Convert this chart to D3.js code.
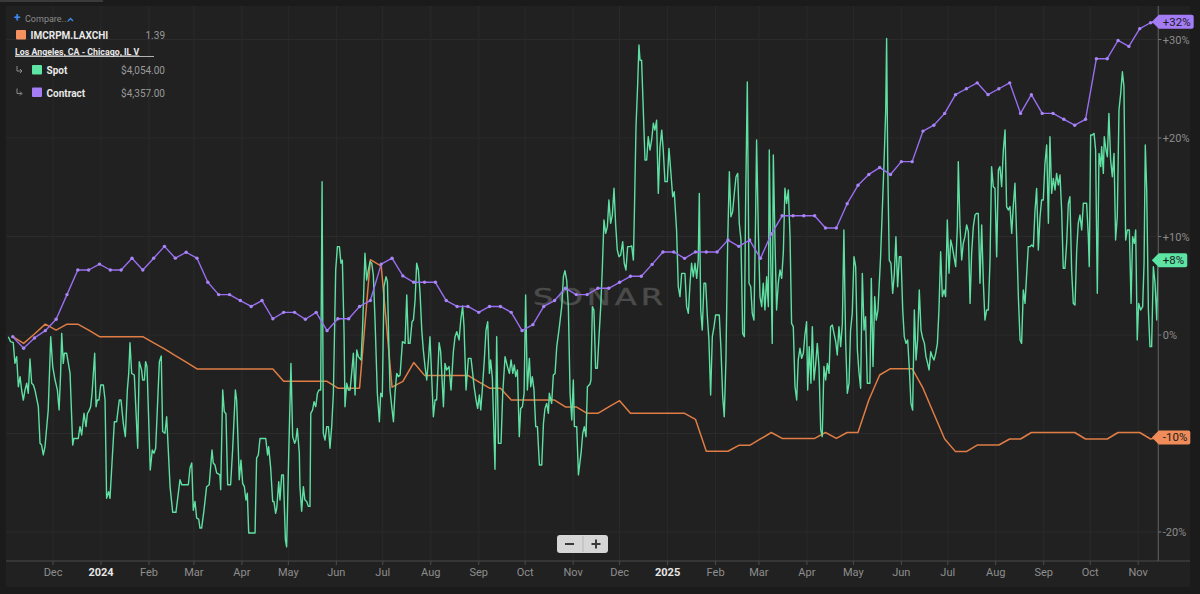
<!DOCTYPE html>
<html><head><meta charset="utf-8">
<script src="https://cdn.jsdelivr.net/npm/d3@7"></script>
<style>
html,body{margin:0;padding:0;background:#1b1b1b;}
svg{display:block;font-family:Roboto,"Noto Sans",sans-serif;}
</style></head><body>
<svg id="chart" width="1200" height="594"></svg>
<script>
// Day offsets are days since 2023-11-01; values are % change from the start.
const BASE_DATE = "2023-11-01";
const END_DAY = 744;

// Weekly contract rate (% change), first week at day 4
const contractStartDay = 4;
const contractWeekly = [-0.17,-1.35,-0.3,0.44,1.6,4.1,6.6,6.6,7.2,6.6,6.6,7.8,6.6,7.8,9.0,7.8,8.4,7.8,5.35,4.1,4.1,3.5,2.9,3.5,1.65,2.3,2.3,
1.6,2.3,0.44,1.65,1.65,2.9,3.5,7.2,7.8,6.0,5.35,5.35,5.35,3.5,2.9,2.9,2.3,2.9,2.9,2.3,0.44,1.05,2.9,3.5,4.75,4.1,4.1,
4.74,4.74,5.35,5.96,5.96,7.17,8.43,8.43,7.78,8.43,8.43,8.43,9.64,9.0,9.64,7.78,10.25,12.1,12.1,12.1,12.1,10.86,10.86,13.33,15.2,16.3,
17.0,16.3,17.6,17.6,20.7,21.3,22.5,24.4,25.0,25.6,24.4,25.0,25.6,22.5,24.4,22.5,22.5,21.9,21.3,21.9,28.05,28.05,29.9,29.3,31.1,31.7];
const contractLatest = 31.8;

// Weekly IMCRPM.LAXCHI (% change)
const imcrpmWeekly = [-0.17,-0.85,0.1,1.1,0.5,1.1,1.1,0.5,-0.17,-0.17,
-0.17,-0.17,-0.17,-0.8,-1.4,-2.1,-2.75,-3.45,-3.45,-3.45,
-3.45,-3.45,-3.45,-3.45,-3.45,-4.7,-4.7,-4.7,-4.7,-4.7,
-5.4,-5.4,-5.4,7.65,7.0,-5.3,-4.7,-2.8,-4.1,-4.1,
-4.1,-4.1,-4.1,-4.75,-5.4,-5.4,-6.6,-6.6,-6.6,-6.6,
-6.6,-7.3,-7.3,-7.95,-7.95,-7.3,-6.67,-7.95,-7.95,-7.95,
-7.95,-7.95,-7.95,-8.56,-11.8,-11.8,-11.8,-11.2,-11.2,-10.55,
-9.9,-10.5,-10.5,-10.5,-10.5,-9.9,-10.5,-9.9,-9.9,-6.6,
-4.06,-3.42,-3.42,-3.42,-5.4,-8.0,-10.56,-11.84,-11.84,-11.17,
-11.17,-11.17,-10.56,-10.56,-9.9,-9.9,-9.9,-9.9,-9.9,-10.56,
-10.56,-10.56,-9.9,-9.9,-9.9,-10.56];
const imcrpmLatest = -10.4;

// Spot rate (% change): [day, value]
const spot = [
[1.1,-0.17],[2.6,-0.68],[4.3,-0.78],[5.4,-2.88],[6.5,-2.2],[7.6,-5.25],[8.7,-4.23],[9.7,-5.58],[10.8,-6.6],[11.9,-5.58],[13.0,-4.9],[14.0,-5.92],[15.1,-2.44],[16.2,-4.9],[17.3,-5.08],[18.3,-5.58],[20.5,-7.28],[21.6,-11.0],[22.6,-11.17],[23.7,-12.18],[24.8,-11.34],[26.9,-7.6],[28.5,-0.17],[29.8,-3.2],[31.3,-4.57],[32.8,-5.58],[33.9,-7.6],[34.9,-3.9],[35.6,0.17],[36.6,-2.88],[37.3,-1.86],[38.8,-1.86],[41.0,-3.9],[42.7,-11.17],[43.5,-10.5],[46.3,-10.5],[47.4,-9.3],[48.5,-10.15],[50.0,-7.95],[51.3,-9.3],[52.2,-7.95],[53.0,-7.78],[54.3,-7.28],[55.2,-5.92],[56.9,-1.86],[57.8,-7.28],[58.6,-6.6],[59.7,-6.6],[60.8,-5.08],[62.5,-5.08],[63.6,-6.6],[64.6,-16.58],[65.9,-15.9],[66.8,-16.58],[69.6,-8.8],[71.1,-8.8],[72.8,-6.6],[73.9,-6.6],[75.4,-8.97],[76.7,-10.32],[78.0,-5.58],[78.9,-3.9],[79.7,-0.78],[80.8,-3.9],[82.5,-4.06],[84.7,-11.5],[85.7,-2.7],[87.2,-3.55],[87.9,-4.57],[89.0,-4.57],[89.8,-2.7],[90.7,-3.2],[92.8,-13.7],[94.1,-11.67],[95.2,-12.0],[96.3,-11.5],[98.7,-2.7],[99.9,-2.13],[100.8,-9.8],[102.3,-9.98],[103.4,-8.3],[105.6,-15.4],[107.3,-18.0],[109.4,-18.0],[112.0,-14.7],[113.1,-15.2],[117.4,-15.2],[118.5,-13.5],[119.6,-13.0],[120.6,-17.8],[121.7,-16.9],[122.8,-18.6],[124.1,-18.7],[124.9,-19.6],[126.0,-19.6],[127.5,-17.8],[129.2,-15.4],[130.9,-15.2],[132.7,-11.67],[133.5,-13.0],[134.6,-13.2],[135.7,-14.0],[137.8,-14.2],[138.3,-15.7],[139.6,-5.58],[140.6,-7.78],[141.7,-8.0],[142.8,-15.2],[144.7,-15.2],[146.0,-11.67],[147.8,-5.58],[148.6,-6.6],[149.7,-11.67],[150.3,-14.7],[151.4,-12.7],[152.5,-15.06],[153.6,-15.4],[154.6,-16.75],[155.5,-16.07],[156.4,-20.1],[160.5,-20.1],[161.5,-12.5],[162.6,-12.18],[163.7,-10.5],[167.4,-10.5],[168.6,-12.18],[169.3,-11.34],[170.6,-13.5],[171.9,-16.9],[172.7,-16.9],[173.8,-18.1],[174.5,-17.6],[175.8,-14.9],[176.6,-16.75],[177.7,-14.2],[178.8,-14.2],[180.1,-20.8],[180.9,-21.5],[182.2,-12.5],[183.7,-2.88],[184.8,-10.32],[186.1,-11.0],[186.9,-10.66],[187.8,-9.48],[189.1,-12.0],
[189.5,-15.4],[190.6,-17.9],[191.7,-15.4],[192.7,-16.75],[193.9,-16.9],[194.9,-17.4],[196.0,-17.4],
[196.5,-7.95],[197.7,-7.6],[198.6,-6.77],[199.7,-7.28],[200.8,-5.92],[201.8,-5.58],[202.9,-5.58],[203.8,15.57],[204.6,-9.98],[205.7,-10.66],[206.8,-9.3],[207.9,-9.3],[208.9,-11.5],[210.0,-9.3],[211.1,-5.92],[212.6,6.6],[213.7,8.97],[215.0,8.97],[216.0,7.28],[216.9,7.6],[218.0,0.17],[218.6,-7.28],[219.7,-4.9],[220.8,-5.58],[221.9,-5.58],[222.9,-3.9],[224.0,-1.86],[225.1,-6.09],[226.2,-1.52],[227.2,-2.2],[229.0,-2.54],[230.0,0.85],[231.5,8.3],[232.6,5.58],[233.7,6.6],[234.8,7.45],[235.9,7.28],[236.9,6.09],[238.0,1.52],[239.5,-5.92],[240.8,-8.8],[241.7,-5.92],[242.7,-6.26],[243.8,4.9],[245.1,5.92],[246.0,5.41],[247.1,-2.2],[247.7,-5.58],[248.8,-7.28],[249.9,-8.8],[250.9,-5.92],[252.0,-3.9],[253.1,-4.23],[254.2,-4.06],[255.7,-0.68],[257.4,-0.85],[258.5,4.06],[259.5,-0.85],[260.6,-0.85],[261.9,1.35],[262.8,1.52],[263.9,3.55],[264.9,7.28],[266.0,6.6],[267.1,4.23],[268.2,0.5],[269.2,-1.52],[270.3,-3.2],[271.4,-4.57],[272.5,-2.54],[273.5,-0.17],[274.6,-4.23],[275.7,-8.3],[276.8,-6.6],[277.8,-6.6],[279.4,-0.78],[280.4,-1.69],[282.2,-7.28],[283.2,-2.88],[284.3,-3.55],[285.8,-3.2],[287.1,-5.58],[288.6,-1.69],[289.7,-0.17],[290.8,0.34],[292.3,-0.5],[293.4,1.52],[294.6,2.94],[295.5,0.85],[296.8,-5.58],[298.3,-2.37],[300.0,-2.37],[301.1,-3.9],[302.0,-5.25],[303.3,-6.6],[304.3,-7.45],[305.4,-6.09],[306.3,-7.6],[307.3,-5.58],[308.6,-2.54],[309.7,0.5],[310.8,1.35],[311.9,-3.9],[312.7,-2.54],[313.8,-4.4],[315.5,-13.64],[316.6,-0.17],[317.7,-11.0],[319.4,-11.0],[320.5,-5.92],[322.0,-2.2],[323.5,-3.2],[324.8,-3.9],[325.9,-2.54],[327.0,-3.9],[328.0,-3.05],[328.9,-4.23],[330.0,-3.55],[331.2,-10.32],[332.1,-7.45],[333.2,-7.28],[334.3,-5.92],[335.3,4.06],[336.4,-5.58],[337.7,-2.37],[338.6,-5.25],[339.6,-4.23],[340.7,-5.58],[341.8,-9.3],[342.9,-9.3],[344.2,-13.2],[345.7,-13.2],[346.8,-8.97],[347.8,-7.45],[348.9,-6.94],[350.0,-7.95],[350.6,-5.92],[352.1,-6.94],[353.2,-4.06],[354.3,-3.9],[355.4,-1.18],[357.1,0.85],[358.6,2.88],[359.7,5.92],[360.7,6.53],[361.8,5.58],[362.9,2.88],[364.0,-5.92],[365.1,-8.63],[366.1,-4.57],[366.8,-9.3],[368.3,-9.3],[369.4,-14.2],[371.1,-12.0],[372.2,-9.98],[373.2,-9.3],[374.3,-10.32],[375.2,-5.25],[376.9,-4.97],
[377.5,-4.57],[378.4,2.88],[379.4,2.54],[380.5,-3.38],[381.6,-3.38],[382.7,-0.17],[383.8,2.88],[384.8,6.6],[385.9,11.67],[387.0,10.32],[388.1,11.0],[389.1,13.7],[390.2,11.34],[391.3,12.18],[392.4,14.9],[393.4,11.34],[394.5,8.63],[395.6,7.95],[396.7,8.12],[398.0,9.48],[399.0,7.28],[400.1,6.6],[401.2,8.97],[402.7,8.97],[403.8,9.04],[404.9,7.61],[405.5,12.0],[406.6,21.15],[407.7,25.55],[408.5,29.44],[409.2,27.9],[410.2,27.9],[411.3,22.84],[412.4,17.77],[413.5,17.77],[414.5,20.14],[415.6,18.78],[416.7,19.8],[417.8,21.5],[418.8,20.8],[419.9,21.8],[421.0,14.38],[422.1,19.1],[423.2,20.8],[424.2,18.78],[425.3,15.57],[426.8,15.57],[427.9,18.95],[429.0,16.75],[430.3,14.04],[431.3,14.55],[432.8,10.66],[433.9,4.9],[435.0,3.9],[436.1,6.26],[438.2,6.26],[439.3,2.88],[440.4,2.2],[441.5,5.25],[442.5,7.28],[443.6,5.92],[444.7,7.28],[445.8,5.75],[446.8,7.61],[447.5,14.38],[448.4,2.54],[449.4,0.5],[450.5,5.25],[451.6,5.25],[452.7,1.86],[453.7,-0.5],[454.8,-6.1],[455.9,-0.17],[457.0,0.85],[458.0,2.03],[460.4,2.03],[461.5,-1.52],[462.6,-6.26],[463.6,-8.3],[464.7,-2.54],[465.8,9.3],[466.9,16.58],[467.9,12.0],[469.0,12.5],[470.1,14.38],[471.2,16.07],[472.3,16.41],[473.3,11.34],[474.4,9.64],[475.5,0.17],[476.6,-0.17],[477.4,13.37],[478.5,25.7],[479.6,5.25],[480.7,4.9],[481.7,2.2],[482.8,1.52],[483.9,12.35],[484.5,19.8],[485.6,10.66],[486.7,3.9],[487.8,2.88],[488.8,5.25],[489.9,2.54],[491.0,5.92],[492.1,2.88],[492.7,18.78],[493.6,7.95],[494.6,-0.85],[495.3,18.27],[496.4,9.3],[497.4,2.54],[498.5,5.25],[499.6,6.6],[500.7,5.75],[501.8,8.46],[502.8,14.9],[503.9,13.37],[505.0,14.72],[506.1,9.98],[507.1,1.18],[508.2,0.85],[509.3,-5.25],[510.4,-6.6],[511.4,-2.54],[512.5,-1.35],[513.6,-2.37],[514.7,-1.86],[515.7,0],[516.8,1.35],[517.5,-5.58],[518.5,-1.18],[519.6,-4.9],[520.5,0.85],[521.6,-4.57],[522.6,-3.05],[523.7,-0.85],[524.8,-3.2],[525.9,-9.64],[526.9,-10.32],[528.0,-3.2],[529.1,-4.57],[530.2,-2.88],[531.3,-3.9],[532.3,0.85],[533.4,1.02],[534.5,0.17],[535.6,-0.68],[536.6,-2.03],[537.7,0.85],[538.8,-1.18],[539.9,1.18],[540.9,10.66],[542.0,-0.5],[543.1,-5.92],[544.2,-4.9],[545.2,0.5],[546.3,2.2],[547.4,7.95],[548.5,6.94],[549.6,-1.52],[550.6,-3.72],[551.7,-5.41],[552.8,6.26],[553.9,0.5],[554.9,1.86],[556.0,-4.9],[557.7,-4.9],[558.6,5.75],[559.7,-3.2],[560.8,3.9],[561.8,1.52],[562.9,2.54],
[564.6,7.95],[565.7,12.7],[566.8,17.4],[567.9,22.8],[568.5,30.1],[569.2,17.4],[570.2,7.6],[571.3,7.28],[572.4,4.23],[573.5,6.26],[574.5,9.98],[575.6,4.9],[576.7,7.95],[577.8,7.95],[578.9,2.54],[579.9,-0.17],[581.0,-0.85],[582.1,-0.5],[583.2,-3.55],[584.2,-6.94],[585.3,-7.61],[586.4,2.54],[587.5,-2.54],[588.5,-0.5],[589.6,4.57],[590.7,0.5],[591.8,-0.34],[592.9,-0.85],[593.9,-2.2],[595.0,-2.88],[595.9,-3.55],[597.0,-1.69],[598.0,-2.2],[599.1,-2.54],[600.2,-1.86],[601.3,-0.85],[602.3,2.54],[603.4,8.46],[604.5,3.9],[605.6,4.57],[606.6,3.9],[607.7,11.67],[608.8,6.26],[609.9,9.64],[610.9,8.97],[612.0,7.95],[613.1,6.94],[614.2,11.0],[614.8,17.6],[615.9,11.0],[617.0,7.61],[618.0,9.3],[619.1,9.98],[620.2,11.17],[621.3,10.49],[622.4,3.21],[623.4,8.29],[624.5,11.0],[625.6,12.18],[626.7,12.35],[627.7,12.35],[628.8,5.25],[629.9,11.17],[631.0,5.25],[632.0,1.52],[633.1,2.54],[634.2,2.54],[635.3,7.61],[636.3,17.09],[637.4,15.06],[638.5,14.89],[639.6,7.95],[640.7,16.75],[641.7,17.09],[642.8,15.06],[643.9,18.78],[645.0,20.81],[646.0,13.03],[647.1,12.69],[648.2,13.03],[649.3,10.32],[650.3,13.03],[651.4,15.4],[652.5,9.98],[653.6,3.89],[654.7,-0.5],[655.7,-0.85],[656.8,4.57],[657.9,3.21],[659.0,6.26],[660.0,8.97],[661.1,8.97],[662.2,9.14],[663.3,8.97],[664.3,12.52],[665.4,14.89],[666.5,8.63],[667.6,12.01],[668.6,13.71],[669.7,13.71],[670.8,17.43],[671.9,19.29],[673.0,11.34],[674.0,20.14],[675.1,14.38],[676.2,15.9],[677.3,14.72],[678.3,16.41],[679.4,15.23],[680.5,16.24],[681.6,12.52],[682.6,6.77],[683.7,6.77],[684.8,9.3],[685.9,13.37],[686.9,14.04],[688.0,6.6],[689.1,3.21],[690.2,3.05],[691.3,8.63],[692.3,11.34],[693.4,12.18],[694.5,10.66],[695.6,13.37],[696.6,13.37],[697.7,13.37],[698.8,9.98],[699.4,6.94],[700.3,20.3],[701.4,20.3],[702.5,20.47],[703.5,18.78],[704.6,4.23],[705.7,18.44],[706.8,17.09],[707.4,19.12],[708.5,16.41],[709.1,20.14],[710.2,18.78],[711.1,18.1],[712.1,22.5],[713.2,17.77],[714.3,16.07],[715.4,18.44],[716.4,9.64],[717.5,12.01],[718.6,22.84],[719.7,24.53],[720.8,26.73],[721.8,25.21],[722.9,9.64],[724.0,10.66],[725.3,10.66],[726.4,3.21],[727.4,9.98],[728.5,9.3],[729.4,10.66],[730.4,-0.5],[731.3,3.21],[732.6,2.54],[733.9,2.88],[734.8,7.28],[735.6,19.29],[736.5,14.72],[737.6,2.54],[738.6,-1.18],[739.7,-1.18],[740.8,6.94],[741.9,5.25],[743.0,1.52],[744.0,7.6]
];

const yTicks = [-20,-10,0,10,20,30];
const legendTitle = "IMCRPM.LAXCHI";
const legendTitleValue = "1.39";
const laneName = "Los Angeles, CA - Chicago, IL V";
const legendSeries = [
  {name:"Spot", value:"$4,054.00", color:"#5ee4a4"},
  {name:"Contract", value:"$4,357.00", color:"#a47cf6"}
];

const COLORS = {spot:"#5fe0a3", contract:"#9a6ef0", imcrpm:"#e07d45",
  spotTag:"#5ee4a4", contractTag:"#a47cf6", imcrpmTag:"#f08c5a"};

const base = d3.timeParse("%Y-%m-%d")(BASE_DATE);
const dayToDate = d => new Date(base.getTime() + d*864e5);

const spotData = spot.map(([d,v]) => ({date: dayToDate(d), v}));
const contractData = contractWeekly.map((v,i) => ({date: dayToDate(contractStartDay + 7*i), v}));
contractData.push({date: dayToDate(END_DAY), v: contractLatest});
const imcrpmData = imcrpmWeekly.map((v,i) => ({date: dayToDate(contractStartDay + 7*i), v}));
imcrpmData.push({date: dayToDate(END_DAY), v: imcrpmLatest});

const svg = d3.select("#chart");
const plotL = 6, plotR = 1158.3, plotT = 6, plotB = 561;

const x = d3.scaleTime().domain([base, dayToDate(END_DAY)]).range([6.6, plotR]);
const y = d3.scaleLinear().domain([-23, 33]).range([561.55, 9.95]);

// panel
svg.append("rect").attr("x",0).attr("y",0).attr("width",1200).attr("height",594).attr("fill","#1b1b1b");
svg.append("rect").attr("x",0).attr("y",0).attr("width",103).attr("height",2).attr("fill","#3a3a3a");
svg.append("rect").attr("x",6).attr("y",6).attr("width",1184).attr("height",581).attr("fill","#212121");

const months = d3.timeMonth.range(new Date(2023,11,1), new Date(2025,10,2));

// grid
const grid = svg.append("g");
grid.selectAll("line.h").data(yTicks).join("line")
  .attr("x1",plotL).attr("x2",plotR).attr("y1",d=>y(d)).attr("y2",d=>y(d))
  .attr("stroke","#2b2b2b").attr("stroke-width",1);
grid.selectAll("line.v").data(months).join("line")
  .attr("x1",d=>x(d)).attr("x2",d=>x(d)).attr("y1",plotT).attr("y2",plotB)
  .attr("stroke","#2a2a2a").attr("stroke-width",1);

// watermark (wide geometric letters)
svg.append("text").attr("transform","translate(533,305) scale(1.4,1)")
  .attr("font-size",23).attr("font-family","'DejaVu Sans', sans-serif")
  .attr("textLength",93).attr("lengthAdjust","spacing")
  .attr("fill","#4b4b4b").attr("stroke","#4b4b4b").attr("stroke-width",0.4)
  .text("SONAR");

// clip
svg.append("clipPath").attr("id","clip").append("rect")
  .attr("x",plotL).attr("y",plotT).attr("width",plotR-plotL).attr("height",plotB-plotT);

const line = d3.line().x(d=>x(d.date)).y(d=>y(d.v));
const g = svg.append("g").attr("clip-path","url(#clip)");
g.append("path").datum(imcrpmData).attr("d",line).attr("fill","none")
  .attr("stroke",COLORS.imcrpm).attr("stroke-width",1.5).attr("stroke-linejoin","round");
g.append("path").datum(spotData).attr("d",line).attr("fill","none")
  .attr("stroke",COLORS.spot).attr("stroke-width",1.4).attr("stroke-linejoin","round");
g.append("path").datum(contractData).attr("d",line).attr("fill","none")
  .attr("stroke",COLORS.contract).attr("stroke-width",1.4).attr("stroke-linejoin","round");
g.selectAll("circle.c").data(contractData).join("circle")
  .attr("cx",d=>x(d.date)).attr("cy",d=>y(d.v)).attr("r",1.7).attr("fill","#a886f7");

// x axis
svg.append("line").attr("x1",6).attr("x2",1190).attr("y1",plotB).attr("y2",plotB)
  .attr("stroke","#4c4c4c").attr("stroke-width",1.2);
const xt = svg.append("g");
xt.selectAll("line").data(months).join("line")
  .attr("x1",d=>x(d)).attr("x2",d=>x(d)).attr("y1",plotB).attr("y2",plotB+4)
  .attr("stroke","#4c4c4c");
xt.selectAll("text").data(months).join("text")
  .attr("x",d=>x(d)).attr("y",576).attr("text-anchor","middle")
  .attr("font-size",11)
  .attr("font-weight",d=>d.getMonth()===0?"bold":"normal")
  .attr("fill",d=>d.getMonth()===0?"#e6e6e6":"#8e8e8e")
  .text(d=>d.getMonth()===0?d3.timeFormat("%Y")(d):d3.timeFormat("%b")(d));

// right axis
svg.append("line").attr("x1",plotR).attr("x2",plotR).attr("y1",6).attr("y2",plotB)
  .attr("stroke","#5a5a5a").attr("stroke-width",1.2);
const fmt = v => (v>0?"+":"") + v + "%";
const lastVals = [contractData, spotData, imcrpmData].map(s => s[s.length-1].v);
const visibleTicks = yTicks.filter(t => lastVals.every(v => Math.abs(y(t) - y(v)) > 11));
const yt = svg.append("g");
yt.selectAll("line").data(yTicks).join("line")
  .attr("x1",plotR).attr("x2",plotR+3).attr("y1",d=>y(d)).attr("y2",d=>y(d)).attr("stroke","#777");
yt.selectAll("text").data(visibleTicks).join("text")
  .attr("x",plotR+4.5).attr("y",d=>y(d)+4).attr("font-size",11).attr("fill","#8c8c8c")
  .text(fmt);

// last-value tags
function tag(data, color){
  const last = data[data.length-1];
  const cy = y(last.v), x0 = plotR - 6.5;
  const gg = svg.append("g");
  const t = gg.append("text").attr("x",x0+11).attr("y",cy+4).attr("font-size",11.5)
    .attr("fill","#1b1b1b").text(fmt(Math.round(last.v)));
  const w = t.node().getComputedTextLength();
  const x1 = x0 + 11 + w + 3;
  gg.insert("path","text").attr("d",
    `M${x0},${cy} L${x0+7},${cy-7} L${x1-2},${cy-7} Q${x1},${cy-7} ${x1},${cy-5} L${x1},${cy+5} Q${x1},${cy+7} ${x1-2},${cy+7} L${x0+7},${cy+7} Z`)
    .attr("fill",color);
}
tag(contractData, COLORS.contractTag);
tag(spotData, COLORS.spotTag);
tag(imcrpmData, COLORS.imcrpmTag);

// legend
const lg = svg.append("g");
lg.append("text").attr("x",14).attr("y",22).attr("font-size",12).attr("fill","#3d8bf0").attr("font-weight","bold").text("+");
lg.append("text").attr("x",25).attr("y",21.5).attr("font-size",9).attr("fill","#8c8c8c").text("Compare...");
lg.append("path").attr("d","M68,21 L70.5,18.5 L73,21").attr("fill","none").attr("stroke","#3d8bf0").attr("stroke-width",1.3);
lg.append("rect").attr("x",16).attr("y",30).attr("width",10).attr("height",9.5).attr("rx",1).attr("fill","#f4915e");
lg.append("text").attr("x",30.5).attr("y",38.5).attr("font-size",10).attr("font-weight","bold").attr("fill","#e8e8e8").text(legendTitle);
lg.append("text").attr("x",165).attr("y",38.5).attr("font-size",10).attr("text-anchor","end").attr("fill","#9a9a9a").text(legendTitleValue);
lg.append("text").attr("x",15).attr("y",54.5).attr("font-size",8.8).attr("font-weight","bold").attr("fill","#e8e8e8")
  .attr("text-decoration","underline").text(laneName);
lg.append("line").attr("x1",15).attr("x2",154).attr("y1",56.5).attr("y2",56.5).attr("stroke","#d8d8d8").attr("stroke-width",0.8);
legendSeries.forEach((s,i)=>{
  const yy = 74 + i*22.5;
  lg.append("path").attr("d",`M17,${yy-8} L17,${yy-3} L21.5,${yy-3}`).attr("fill","none").attr("stroke","#8c8c8c").attr("stroke-width",1);
  lg.append("path").attr("d",`M20,${yy-5} L22,${yy-3} L20,${yy-1}`).attr("fill","none").attr("stroke","#8c8c8c").attr("stroke-width",1);
  lg.append("rect").attr("x",32).attr("y",yy-9).attr("width",10).attr("height",9.5).attr("rx",1).attr("fill",s.color);
  lg.append("text").attr("x",46.5).attr("y",yy).attr("font-size",10).attr("font-weight","bold").attr("fill","#e8e8e8").text(s.name);
  lg.append("text").attr("x",165).attr("y",yy).attr("font-size",10).attr("text-anchor","end").attr("fill","#9a9a9a").text(s.value);
});

// zoom buttons
const zb = svg.append("g");
zb.append("rect").attr("x",557).attr("y",535).attr("width",51).attr("height",18).attr("rx",3).attr("fill","#d6d6d6");
zb.append("line").attr("x1",583).attr("x2",583).attr("y1",536).attr("y2",552).attr("stroke","#b8b8b8");
zb.append("line").attr("x1",565).attr("x2",574).attr("y1",544).attr("y2",544).attr("stroke","#3a3a3a").attr("stroke-width",2);
zb.append("line").attr("x1",591.5).attr("x2",600.5).attr("y1",544).attr("y2",544).attr("stroke","#3a3a3a").attr("stroke-width",2);
zb.append("line").attr("x1",596).attr("x2",596).attr("y1",539.5).attr("y2",548.5).attr("stroke","#3a3a3a").attr("stroke-width",2);
</script>
</body></html>
